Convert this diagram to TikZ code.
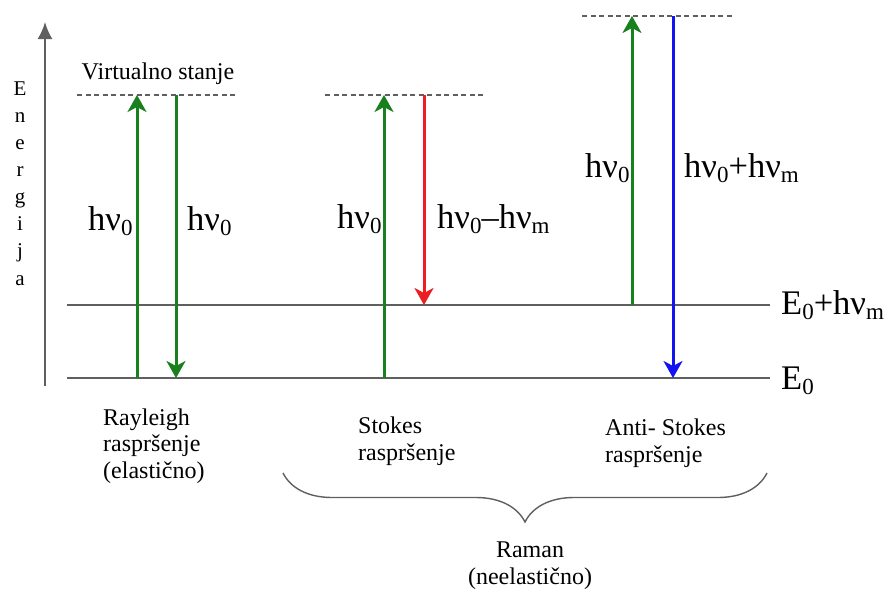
\documentclass[tikz,border=0pt]{standalone}
\usepackage{fontspec}
\setmainfont{Liberation Serif}
\usetikzlibrary{arrows.meta,decorations.pathreplacing}

\definecolor{lvlgray}{RGB}{95,95,95}
\definecolor{phgreen}{RGB}{25,128,30}
\definecolor{phred}{RGB}{236,30,36}
\definecolor{phblue}{RGB}{20,20,240}

\newcommand{\idx}[1]{\raisebox{-0.16em}{\fontsize{23}{23}\selectfont #1}}

\tikzset{
  level/.style={lvlgray,line width=1.6pt},
  virtual/.style={lvlgray,line width=1.1pt,dash pattern=on 5pt off 3.5pt},
  photon/.style={line width=3pt,-{Stealth[length=17pt,width=19pt,inset=5pt]}},
  small/.style={inner sep=0pt,align=left,font=\fontsize{24}{26.5}\selectfont},
  big/.style={inner sep=0pt,font=\fontsize{34.5}{36}\selectfont}
}

\begin{document}
\begin{tikzpicture}[x=1pt,y=-1pt]
\useasboundingbox (0,0) rectangle (887,590);

\draw [lvlgray,line width=2pt,-{Latex[length=17pt,width=15pt]}] (45,386) -- (45,22) ;
\node (energy) [inner sep=0pt,align=center,font=\fontsize{21}{27.1}\selectfont,anchor=base]
  at (20,285) {E\\n\\e\\r\\g\\i\\j\\a};

\draw [level] (67,378) -- (770,378) ;
\draw [level] (67,305) -- (770,305) ;
\node (ground) [big,anchor=base west] at (781,389) {E\idx{0}};
\node (excited) [big,anchor=base west] at (781,314) {E\idx{0}+hν\idx{m}};

\draw [virtual] (77,95) -- (235,95) ;
\draw [virtual] (325,95) -- (483,95) ;
\draw [virtual] (582,16) -- (732,16) ;
\node (virt) [small,anchor=base] at (158,79) {Virtualno stanje};

\draw [photon,phgreen] (137,378) -- (137,95) ;
\draw [photon,phgreen] (176,95) -- (176,378) ;
\node (rayin) [big,anchor=base west] at (88,230) {hν\idx{0}};
\node (rayout) [big,anchor=base west] at (187,230) {hν\idx{0}};

\draw [photon,phgreen] (384,378) -- (384,95) ;
\draw [photon,phred] (424,95) -- (424,305) ;
\node (stin) [big,anchor=base west] at (337,228) {hν\idx{0}};
\node (stout) [big,anchor=base west] at (437,228) {hν\idx{0}–hν\idx{m}};

\draw [photon,phgreen] (632,305) -- (632,16) ;
\draw [photon,phblue] (673,16) -- (673,378) ;
\node (asin) [big,anchor=base west] at (585,177) {hν\idx{0}};
\node (asout) [big,anchor=base west] at (684,177) {hν\idx{0}+hν\idx{m}};

\node (rayleigh) [small,anchor=base west] at (103,478) {Rayleigh\\raspršenje\\(elastično)};
\node (stokes) [small,anchor=base west] at (358,460) {Stokes\\raspršenje};
\node (antistokes) [small,anchor=base west] at (605,462) {Anti- Stokes\\raspršenje};

\draw [lvlgray,line width=1.4pt,decorate,decoration={brace,mirror,amplitude=49pt}]
  (283,473) -- (767,473) ;
\node (raman) [small,align=center,anchor=base] at (530,584) {Raman\\(neelastično)};

\end{tikzpicture}
\end{document}
